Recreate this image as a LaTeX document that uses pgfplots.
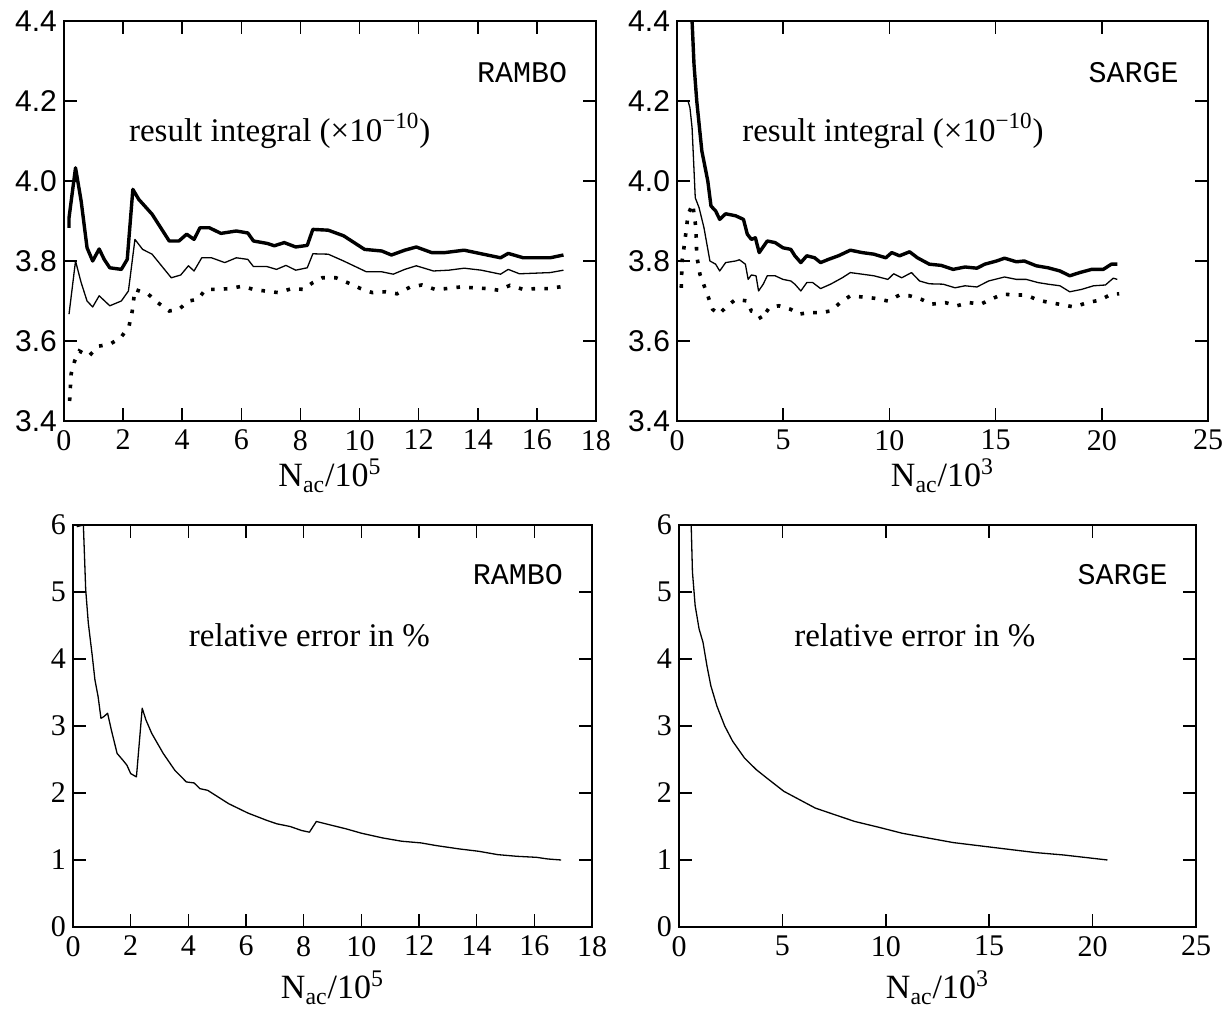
\documentclass[border=0pt]{standalone}
\usepackage{fontspec}
\setmainfont{Liberation Serif}
\setmonofont{Liberation Mono}
\newfontfamily\sansf{Liberation Sans}
\usepackage{pgfplots}
\pgfplotsset{compat=1.18}
\newcommand\fs{\fontsize{15}{18}\selectfont}
\newcommand\ft{\fontsize{16.5}{20}\selectfont}
\newcommand\fl{\fontsize{17}{20}\selectfont}
\pgfplotsset{
  myax/.style={scale only axis, anchor=south west,
    axis line style={line width=0.75pt, black},
    tick style={line width=0.75pt, black},
    major tick length=6.5pt, tick align=inside,
    xtick pos=both, ytick pos=both,
    tick label style={font=\fs},
    xticklabel style={yshift=-1pt},
    every axis x label/.style={at={(axis description cs:0.5,0)}, anchor=base, font=\fl},
  },
  thickl/.style={black, line width=1.7pt, line join=round},
  thinl/.style={black, line width=0.65pt, line join=round},
  dotl/.style={black, line width=1.8pt, dash pattern=on 1.8pt off 4.6pt, line cap=butt},
}
\begin{document}
\begin{tikzpicture}
\useasboundingbox (0,0) rectangle (614pt,505.5pt);
% ---------------- top left: RAMBO result
\begin{axis}[myax, at={(32pt,295pt)}, width=266pt, height=200pt,
  xmin=0, xmax=18, ymin=3.4, ymax=4.4,
  xtick={0,2,4,6,8,10,12,14,16,18}, xticklabels={0,2,4,6,8,10,12,14,16,18},
  ytick={3.4,3.6,3.8,4.0,4.2,4.4}, yticklabels={3.4,3.6,3.8,4.0,4.2,4.4},
  yticklabel style={font=\fs\sansf},
  xlabel={N\textsubscript{ac}/10\textsuperscript{5}},
  xlabel style={yshift=-33pt}]
\addplot[thickl] coordinates {
(0.17,3.883)(0.17,3.908)(0.39,4.033)(0.58,3.95)(0.78,3.833)(0.97,3.80)(1.19,3.83)(1.36,3.804)
(1.55,3.783)(1.94,3.779)(2.14,3.804)(2.33,3.979)(2.53,3.954)(2.98,3.917)(3.56,3.85)(3.89,3.85)
(4.15,3.867)(4.40,3.854)(4.60,3.883)(4.92,3.883)(5.31,3.869)(5.83,3.875)(6.22,3.87)(6.41,3.85)
(6.87,3.844)(7.12,3.838)(7.45,3.846)(7.84,3.835)(8.23,3.839)(8.42,3.879)(8.94,3.877)(9.46,3.863)
(10.17,3.829)(10.75,3.825)(11.08,3.815)(11.53,3.827)(11.92,3.835)(12.44,3.821)(12.89,3.821)
(13.54,3.827)(14.12,3.818)(14.77,3.808)(15.03,3.819)(15.54,3.808)(16.45,3.808)(16.90,3.815)};
\addplot[thinl] coordinates {
(0.17,3.667)(0.39,3.80)(0.58,3.746)(0.78,3.70)(0.97,3.685)(1.19,3.713)(1.55,3.688)(1.94,3.70)
(2.18,3.725)(2.40,3.854)(2.66,3.829)(2.98,3.817)(3.63,3.758)(3.95,3.765)(4.21,3.788)(4.40,3.775)
(4.66,3.808)(4.99,3.808)(5.44,3.796)(5.83,3.808)(6.22,3.804)(6.41,3.786)(6.87,3.786)(7.19,3.779)
(7.51,3.789)(7.84,3.777)(8.23,3.783)(8.42,3.818)(8.94,3.817)(9.46,3.80)(10.23,3.773)(10.75,3.773)
(11.14,3.767)(11.53,3.779)(11.92,3.788)(12.50,3.775)(13.02,3.777)(13.54,3.782)(14.12,3.777)
(14.77,3.767)(15.03,3.779)(15.41,3.768)(16.45,3.771)(16.90,3.777)};
\addplot[dotl] coordinates {
(0.19,3.45)(0.24,3.517)(0.36,3.55)(0.52,3.575)(0.84,3.562)(1.17,3.587)(1.55,3.592)(1.92,3.608)
(2.20,3.637)(2.31,3.675)(2.40,3.729)(2.85,3.717)(3.17,3.696)(3.56,3.675)(3.89,3.679)(4.21,3.70)
(4.53,3.704)(4.79,3.729)(5.18,3.729)(5.63,3.731)(6.02,3.737)(6.41,3.729)(6.80,3.725)(7.25,3.721)
(7.71,3.731)(8.10,3.729)(8.42,3.746)(8.74,3.758)(9.20,3.758)(9.59,3.746)(10.04,3.731)(10.43,3.721)
(10.88,3.723)(11.27,3.718)(11.72,3.735)(12.11,3.74)(12.56,3.729)(12.95,3.731)(13.41,3.735)
(13.86,3.733)(14.31,3.731)(14.70,3.727)(15.09,3.739)(15.54,3.729)(16.00,3.731)(16.45,3.731)(16.90,3.737)};
\node[font=\fs\ttfamily] at (15.5,4.27) {RAMBO};
\node[font=\ft] at (7.3,4.125) {result integral (\texttimes10\textsuperscript{−10})};
\end{axis}
% ---------------- top right: SARGE result
\begin{axis}[myax, at={(338.5pt,295pt)}, width=265.5pt, height=200pt,
  xmin=0, xmax=25, ymin=3.4, ymax=4.4,
  xtick={0,5,10,15,20,25}, xticklabels={0,5,10,15,20,25},
  ytick={3.4,3.6,3.8,4.0,4.2,4.4}, yticklabels={3.4,3.6,3.8,4.0,4.2,4.4},
  yticklabel style={font=\fs\sansf},
  xlabel={N\textsubscript{ac}/10\textsuperscript{3}},
  xlabel style={yshift=-33pt}]
\addplot[thickl] coordinates {
(0.62,4.55)(0.71,4.4)(0.80,4.292)(0.93,4.20)(1.17,4.075)(1.45,4.0)(1.60,3.9375)(1.82,3.925)
(2.01,3.904)(2.29,3.918)(2.76,3.913)(3.13,3.904)(3.31,3.867)(3.50,3.854)(3.69,3.858)(3.87,3.821)
(4.25,3.85)(4.62,3.846)(4.99,3.833)(5.36,3.829)(5.55,3.813)(5.83,3.796)(6.11,3.813)(6.48,3.808)
(6.76,3.796)(7.13,3.804)(7.60,3.813)(8.16,3.827)(8.72,3.821)(9.27,3.817)(9.83,3.808)(10.11,3.821)
(10.48,3.813)(10.95,3.823)(11.32,3.808)(11.88,3.792)(12.44,3.789)(13.0,3.779)(13.56,3.785)
(14.12,3.782)(14.49,3.792)(15.05,3.80)(15.42,3.807)(15.98,3.798)(16.35,3.80)(16.91,3.788)
(17.47,3.783)(18.03,3.775)(18.49,3.763)(18.96,3.771)(19.52,3.779)(20.07,3.779)(20.45,3.792)(20.73,3.792)};
\addplot[thinl] coordinates {
(0.06,4.2)(0.52,4.2)(0.61,4.183)(0.71,4.133)(0.86,3.958)(1.04,3.933)(1.27,3.883)(1.55,3.80)
(1.82,3.792)(2.01,3.775)(2.29,3.796)(2.76,3.80)(2.94,3.803)(3.22,3.792)(3.35,3.754)(3.50,3.765)
(3.72,3.763)(3.84,3.725)(4.06,3.742)(4.25,3.763)(4.62,3.763)(4.99,3.754)(5.36,3.75)(5.55,3.742)
(5.83,3.725)(6.11,3.746)(6.39,3.746)(6.76,3.731)(7.23,3.742)(7.78,3.758)(8.16,3.771)(8.72,3.767)
(9.27,3.763)(9.93,3.754)(10.20,3.768)(10.58,3.758)(11.04,3.771)(11.42,3.75)(11.88,3.743)
(12.53,3.742)(13.09,3.733)(13.56,3.738)(14.12,3.735)(14.67,3.75)(15.42,3.76)(15.98,3.754)
(16.44,3.754)(17.00,3.746)(17.47,3.742)(18.03,3.738)(18.49,3.723)(19.05,3.729)(19.61,3.738)
(20.17,3.74)(20.54,3.757)(20.73,3.754)};
\addplot[dotl] coordinates {
(0.20,3.733)(0.24,3.80)(0.34,3.838)(0.43,3.875)(0.52,3.917)(0.74,3.942)(0.89,3.883)(0.93,3.813)
(1.08,3.767)(1.45,3.713)(1.68,3.679)(1.97,3.667)(2.38,3.688)(2.76,3.704)(3.31,3.70)(3.50,3.675)
(3.78,3.671)(3.97,3.654)(4.34,3.683)(4.80,3.688)(5.36,3.679)(5.74,3.667)(6.20,3.671)(6.76,3.671)
(7.23,3.675)(7.69,3.696)(8.16,3.713)(8.72,3.71)(9.27,3.707)(9.93,3.70)(10.48,3.715)(10.95,3.713)
(11.51,3.704)(11.97,3.692)(12.63,3.696)(13.18,3.688)(13.74,3.696)(14.30,3.692)(14.77,3.704)
(15.33,3.717)(15.98,3.715)(16.44,3.715)(17.00,3.702)(17.56,3.696)(18.21,3.69)(18.68,3.685)
(19.33,3.696)(19.89,3.702)(20.45,3.717)(20.82,3.718)};
\node[font=\fs\ttfamily] at (21.5,4.27) {SARGE};
\node[font=\ft] at (10.17,4.125) {result integral (\texttimes10\textsuperscript{−10})};
\end{axis}
% ---------------- bottom left: RAMBO error
\begin{axis}[myax, at={(36.5pt,42pt)}, width=259.5pt, height=201pt,
  xmin=0, xmax=18, ymin=0, ymax=6,
  xtick={0,2,4,6,8,10,12,14,16,18}, xticklabels={0,2,4,6,8,10,12,14,16,18},
  ytick={0,1,2,3,4,5,6}, yticklabels={0,1,2,3,4,5,6},
  xlabel={N\textsubscript{ac}/10\textsuperscript{5}},
  xlabel style={yshift=-36pt}]
\addplot[thinl] coordinates {
(0.13,5.975)(0.36,6.0)(0.44,5.04)(0.53,4.54)(0.67,4.04)(0.76,3.69)(0.87,3.44)(0.97,3.115)
(1.07,3.14)(1.2,3.19)(1.33,2.94)(1.53,2.59)(1.73,2.49)(1.87,2.415)(2.0,2.29)(2.2,2.24)
(2.4,3.265)(2.53,3.09)(2.73,2.89)(3.13,2.59)(3.53,2.34)(3.93,2.165)(4.2,2.15)(4.4,2.065)
(4.67,2.04)(5.4,1.84)(6.07,1.70)(6.73,1.59)(7.07,1.54)(7.53,1.50)(7.93,1.44)(8.2,1.415)
(8.44,1.575)(9.0,1.515)(9.47,1.465)(10.0,1.40)(10.73,1.33)(11.4,1.28)(12.07,1.255)(12.6,1.215)
(13.4,1.165)(14.07,1.13)(14.73,1.08)(15.4,1.055)(16.07,1.04)(16.47,1.015)(16.93,1.0)};
\node[font=\fs\ttfamily] at (15.43,5.26) {RAMBO};
\node[font=\ft] at (8.2,4.35) {relative error in \%};
\end{axis}
% ---------------- bottom right: SARGE error
\begin{axis}[myax, at={(339.5pt,42pt)}, width=258.5pt, height=201pt,
  xmin=0, xmax=25, ymin=0, ymax=6,
  xtick={0,5,10,15,20,25}, xticklabels={0,5,10,15,20,25},
  ytick={0,1,2,3,4,5,6}, yticklabels={0,1,2,3,4,5,6},
  xlabel={N\textsubscript{ac}/10\textsuperscript{3}},
  xlabel style={yshift=-36pt}]
\addplot[thinl] coordinates {
(0.59,6.0)(0.65,5.3)(0.78,4.8)(0.97,4.45)(1.16,4.25)(1.35,3.90)(1.54,3.60)(1.83,3.30)
(2.21,3.0)(2.59,2.775)(3.16,2.525)(3.73,2.35)(4.30,2.21)(5.07,2.025)(5.83,1.90)(6.59,1.775)
(7.54,1.675)(8.50,1.575)(9.64,1.49)(10.78,1.40)(11.92,1.335)(13.26,1.26)(14.59,1.21)
(15.92,1.16)(17.26,1.11)(18.59,1.075)(19.73,1.035)(20.72,1.0)};
\node[font=\fs\ttfamily] at (21.45,5.26) {SARGE};
\node[font=\ft] at (11.4,4.35) {relative error in \%};
\end{axis}
\end{tikzpicture}
\end{document}
